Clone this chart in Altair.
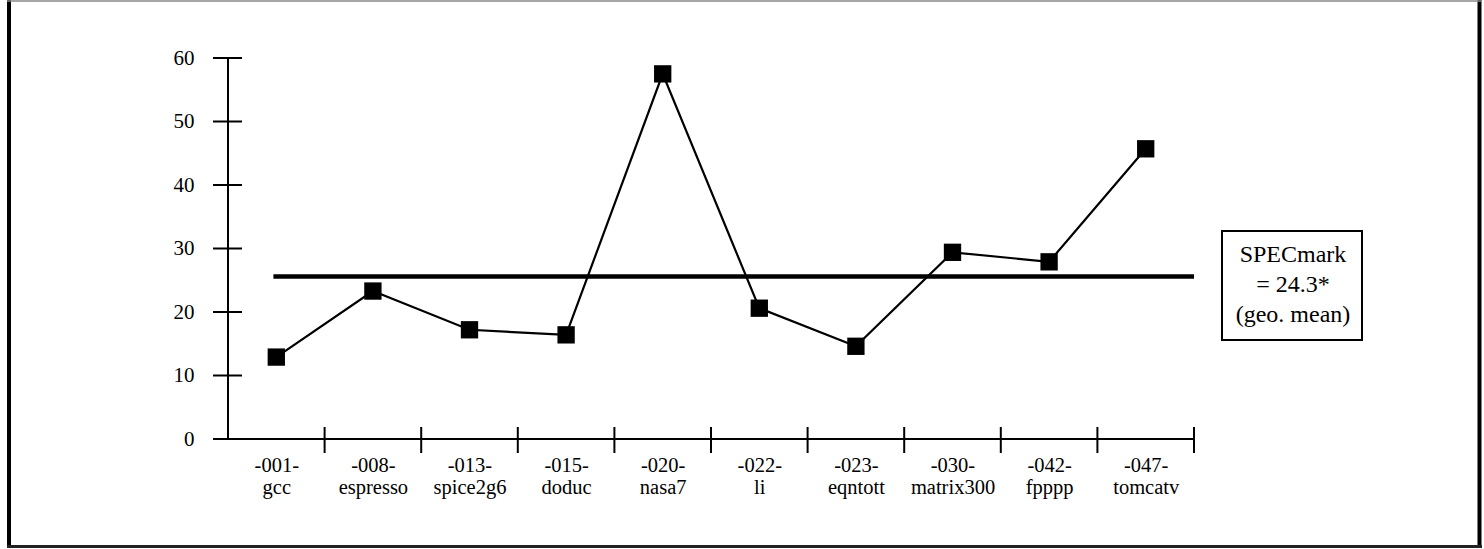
import altair as alt
import pandas as pd

# ---- data ----
codes = ["-001-", "-008-", "-013-", "-015-", "-020-", "-022-", "-023-", "-030-", "-042-", "-047-"]
names = ["gcc", "espresso", "spice2g6", "doduc", "nasa7", "li", "eqntott", "matrix300", "fpppp", "tomcatv"]
values = [12.9, 23.3, 17.2, 16.4, 57.5, 20.6, 14.6, 29.4, 27.9, 45.7]
y_ticks = [0, 10, 20, 30, 40, 50, 60]
mean_line = 25.6
mean_text = ["SPECmark", "= 24.3*", "(geo. mean)"]

# ---- layout ----
W, H = 966, 381
FONT = "Liberation Serif"
n = len(names)

df = pd.DataFrame({"pos": [i + 0.5 for i in range(n)], "value": values})
bounds = pd.DataFrame({"b": list(range(1, n + 1))})
yt = pd.DataFrame({"v": y_ticks})
one = pd.DataFrame({"a": [0]})

xscale = alt.Scale(domain=[0, n], nice=False, zero=False)
yscale = alt.Scale(domain=[0, 60], nice=False)

label_expr = "[" + ",".join(f"['{c}','{nm}']" for c, nm in zip(codes, names)) + "][floor(datum.value)]"

xaxis = alt.Axis(values=[i + 0.5 for i in range(n)], labelExpr=label_expr, title=None,
                 domain=False, ticks=False, grid=False, labelPadding=16, labelLineHeight=22,
                 labelAngle=0, labelFlush=False, labelOverlap=False,
                 labelFont=FONT, labelFontSize=20.5, labelColor="black")
yaxis = alt.Axis(values=y_ticks, title=None, domain=False, ticks=False, grid=False,
                 labelPadding=34, labelFont=FONT, labelFontSize=21, labelColor="black")


def X(field):
    return alt.X(field, scale=xscale, axis=xaxis)


def Y(field):
    return alt.Y(field, scale=yscale, axis=yaxis)


# outer frame (decoration)
frame_left = alt.Chart(one).mark_rule(color="black", strokeWidth=4).encode(
    x=alt.value(-219), y=alt.value(-58), y2=alt.value(490))
frame_right = alt.Chart(one).mark_rule(color="black", strokeWidth=4).encode(
    x=alt.value(1251.5), y=alt.value(-58), y2=alt.value(490))
frame_top = alt.Chart(one).mark_rule(color="#888888", strokeWidth=1.5).encode(
    x=alt.value(-221), x2=alt.value(1254), y=alt.value(-57))
frame_bottom = alt.Chart(one).mark_rule(color="#222222", strokeWidth=3).encode(
    x=alt.value(-221), x2=alt.value(1254), y=alt.value(488.5))

# annotation box
box = alt.Chart(one).mark_rect(fill="white", stroke="black", strokeWidth=2).encode(
    x=alt.value(994), x2=alt.value(1134), y=alt.value(173), y2=alt.value(282))
box_text = alt.Chart(pd.DataFrame({"t": ["\n".join(mean_text)]})).mark_text(
    font=FONT, fontSize=24, color="black", lineBreak="\n", lineHeight=30,
    align="center", baseline="middle").encode(
    x=alt.value(1065), y=alt.value(197), text="t:N")

# axis lines
axes_df = pd.DataFrame({"x0": [0], "x1": [n], "y0": [0], "y1": [60]})
yline = alt.Chart(axes_df).mark_rule(color="black", strokeWidth=2).encode(
    x=X("x0:Q"), y=Y("y0:Q"), y2="y1:Q")
xline = alt.Chart(axes_df).mark_rule(color="black", strokeWidth=2).encode(
    x=X("x0:Q"), x2="x1:Q", y=Y("y0:Q"))

# ticks crossing the axes
xticks = alt.Chart(bounds).mark_rule(color="black", strokeWidth=2).encode(
    x=X("b:Q"), y=alt.value(H - 12), y2=alt.value(H + 14))
yticks = alt.Chart(yt).mark_rule(color="black", strokeWidth=2).encode(
    y=Y("v:Q"), x=alt.value(-15), x2=alt.value(14))

# mean line
mean_df = pd.DataFrame({"x0": [0.47], "x1": [n], "y": [mean_line]})
mean = alt.Chart(mean_df).mark_rule(color="black", strokeWidth=4.5).encode(
    x=X("x0:Q"), x2="x1:Q", y=Y("y:Q"))

# series
line = alt.Chart(df).mark_line(color="black", strokeWidth=2.2).encode(
    x=X("pos:Q"), y=Y("value:Q"))
pts = alt.Chart(df).mark_square(size=300, color="black", opacity=1, filled=True).encode(
    x=X("pos:Q"), y=Y("value:Q"))

chart = alt.layer(
    frame_left, frame_right, frame_top, frame_bottom,
    box, yline, xline, xticks, yticks, mean, line, pts, box_text
).properties(
    width=W, height=H,
    autosize=alt.AutoSizeParams(type="none"),
    padding={"left": 228, "top": 58, "right": 290, "bottom": 110},
    background="white",
).configure_view(
    stroke=None
).configure_axis(
    labelFont=FONT, labelColor="black"
)

chart.save("out.html", embed_options={"renderer": "svg", "actions": False})
